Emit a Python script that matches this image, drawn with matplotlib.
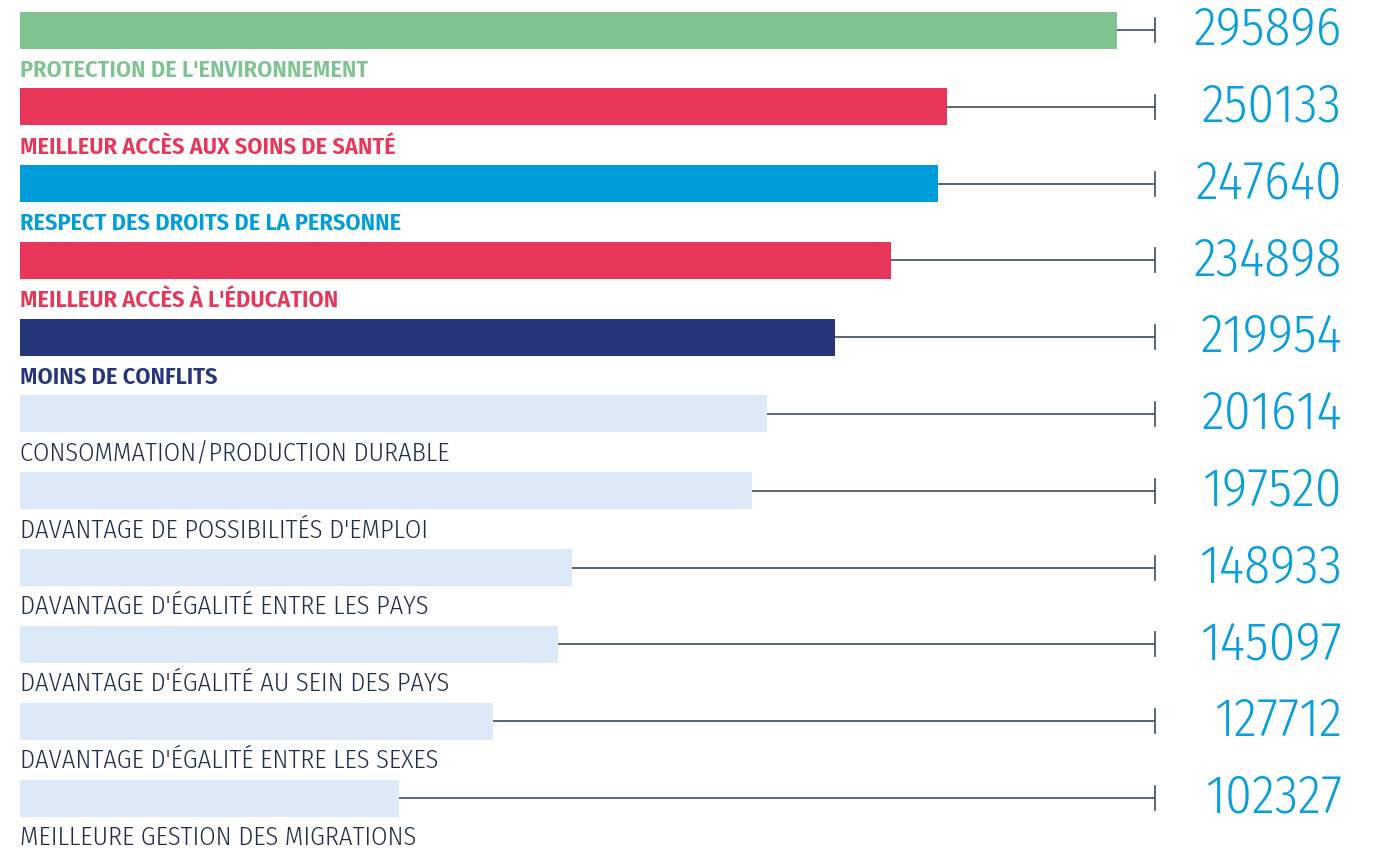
import numpy as np
import matplotlib.pyplot as plt

# données
labels = ["PROTECTION DE L'ENVIRONNEMENT",
          "MEILLEUR ACCÈS AUX SOINS DE SANTÉ",
          "RESPECT DES DROITS DE LA PERSONNE",
          "MEILLEUR ACCÈS À L'ÉDUCATION",
          "MOINS DE CONFLITS",
          "CONSOMMATION/PRODUCTION DURABLE",
          "DAVANTAGE DE POSSIBILITÉS D'EMPLOI",
          "DAVANTAGE D'ÉGALITÉ ENTRE LES PAYS",
          "DAVANTAGE D'ÉGALITÉ AU SEIN DES PAYS",
          "DAVANTAGE D'ÉGALITÉ ENTRE LES SEXES",
          "MEILLEURE GESTION DES MIGRATIONS"]
values = [295896, 250133, 247640, 234898, 219954, 201614,
          197520, 148933, 145097, 127712, 102327]
highlight = [True, True, True, True, True, False, False, False, False, False, False]

bar_colors = ['#7fc391', '#e8365a', '#009ddb', '#e8365a', '#27357a'] + ['#dce9f7'] * 6
text_colors = ['#7fc391', '#e8365a', '#009ddb', '#e8365a', '#27357a'] + ['#1f2d4a'] * 6
num_color = '#0a9fdc'
line_color = '#3e4c5e'

fam = ['Fira Sans Condensed', 'Roboto Condensed', 'DejaVu Sans']

W, H = 1376, 851
fig = plt.figure(figsize=(W / 100, H / 100), dpi=100)
ax = fig.add_axes([0, 0, 1, 1])

k = values[0] / 1097  # unités par pixel
ax.set_xlim(-20 * k, (W - 20) * k)
row = 76.8
ax.set_ylim((H - 30) / row, -30 / row)
ax.axis('off')

y = np.arange(len(values))
ax.barh(y, values, height=37 / row, color=bar_colors)

x_end = 1135 * k
for i, v in enumerate(values):
    ax.plot([v, x_end], [i, i], color=line_color, lw=1.2, solid_capstyle='butt')
    ax.plot([x_end, x_end], [i - 12 / row, i + 12 / row], color=line_color, lw=1.2)
    ax.text(1342 / W, i, str(v), transform=ax.get_yaxis_transform(),
            ha='right', va='center', fontsize=38.5, color=num_color,
            family=fam, fontweight=300)
    ax.text(0, i + 0.61, labels[i], ha='left', va='baseline',
            fontsize=17.4 if highlight[i] else 19,
            color=text_colors[i], family=fam,
            fontweight=600 if highlight[i] else 300)

fig.savefig('out.png', dpi=100)
